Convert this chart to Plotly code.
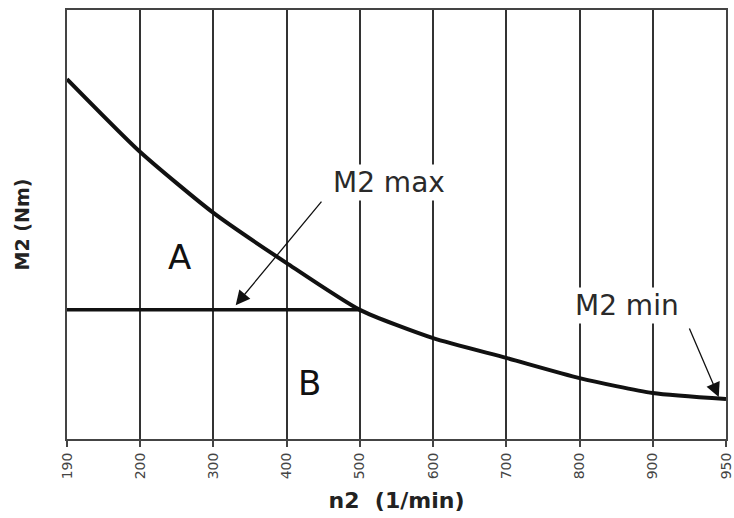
import plotly.graph_objects as go

n2_labels = ["190", "200", "300", "400", "500", "600", "700", "800", "900", "950"]
m2_curve = [83.9, 66.9, 52.7, 41.0, 30.1, 23.5, 18.9, 14.2, 10.7, 9.3]
m2_max_labels = ["190", "200", "300", "400", "500"]
m2_max_values = [30.1, 30.1, 30.1, 30.1, 30.1]

fig = go.Figure()
fig.add_trace(go.Scatter(
    x=n2_labels, y=m2_curve, mode="lines",
    line=dict(color="#111111", width=4, shape="spline", smoothing=0.6),
    showlegend=False, hoverinfo="skip"))
fig.add_trace(go.Scatter(
    x=m2_max_labels, y=m2_max_values, mode="lines",
    line=dict(color="#111111", width=3.5),
    showlegend=False, hoverinfo="skip"))

ann_font = dict(family="DejaVu Sans", size=28, color="#2a2a2a")
fig.add_annotation(xref="paper", yref="paper", x=0.489, y=0.597,
                   text="M2 max", showarrow=False, font=ann_font,
                   bgcolor="white", xanchor="center", yanchor="middle")
fig.add_annotation(xref="paper", yref="paper", x=0.85, y=0.312,
                   text="M2 min", showarrow=False, font=ann_font,
                   bgcolor="white", xanchor="center", yanchor="middle")
fig.add_annotation(xref="paper", yref="paper", x=0.256, y=0.312,
                   axref="pixel", ayref="pixel", ax=87, ay=-105,
                   text="", showarrow=True, arrowhead=2, arrowsize=2.2,
                   arrowwidth=1.3, arrowcolor="#111111")
fig.add_annotation(xref="paper", yref="paper", x=0.989, y=0.098,
                   axref="pixel", ayref="pixel", ax=-30, ay=-70,
                   text="", showarrow=True, arrowhead=2, arrowsize=2.2,
                   arrowwidth=1.3, arrowcolor="#111111")
fig.add_annotation(xref="paper", yref="paper", x=0.170, y=0.424,
                   text="A", showarrow=False, xanchor="center", yanchor="middle",
                   font=dict(family="DejaVu Sans", size=34, color="#111111"))
fig.add_annotation(xref="paper", yref="paper", x=0.368, y=0.131,
                   text="B", showarrow=False, xanchor="center", yanchor="middle",
                   font=dict(family="DejaVu Sans", size=34, color="#111111"))

fig.update_layout(
    width=734, height=518,
    margin=dict(l=67, r=8, t=10, b=79, autoexpand=False),
    plot_bgcolor="white", paper_bgcolor="white",
    xaxis=dict(
        type="category", range=[0, 9], automargin=False,
        showgrid=True, gridcolor="#333333", gridwidth=1.5,
        showline=True, linecolor="#444444", linewidth=2, mirror=True,
        ticks="outside", ticklen=6, tickcolor="#444444", tickwidth=1.5,
        tickangle=-90,
        tickfont=dict(family="DejaVu Sans", size=14, color="#444444"),
        title=dict(text="n2  (1/min)",
                   font=dict(family="DejaVu Sans", size=22, color="#222222", weight="bold"),
                   standoff=14),
        zeroline=False,
    ),
    yaxis=dict(
        range=[0, 100], showgrid=False, showticklabels=False, ticks="",
        automargin=False,
        showline=True, linecolor="#444444", linewidth=2, mirror=True,
        zeroline=False,
        title=dict(text="M2 (Nm)",
                   font=dict(family="DejaVu Sans", size=19, color="#222222", weight="bold"),
                   standoff=30),
    ),
)

fig.write_html("out.html", config={"displayModeBar": False},
               post_script="document.body.style.margin='0';")
